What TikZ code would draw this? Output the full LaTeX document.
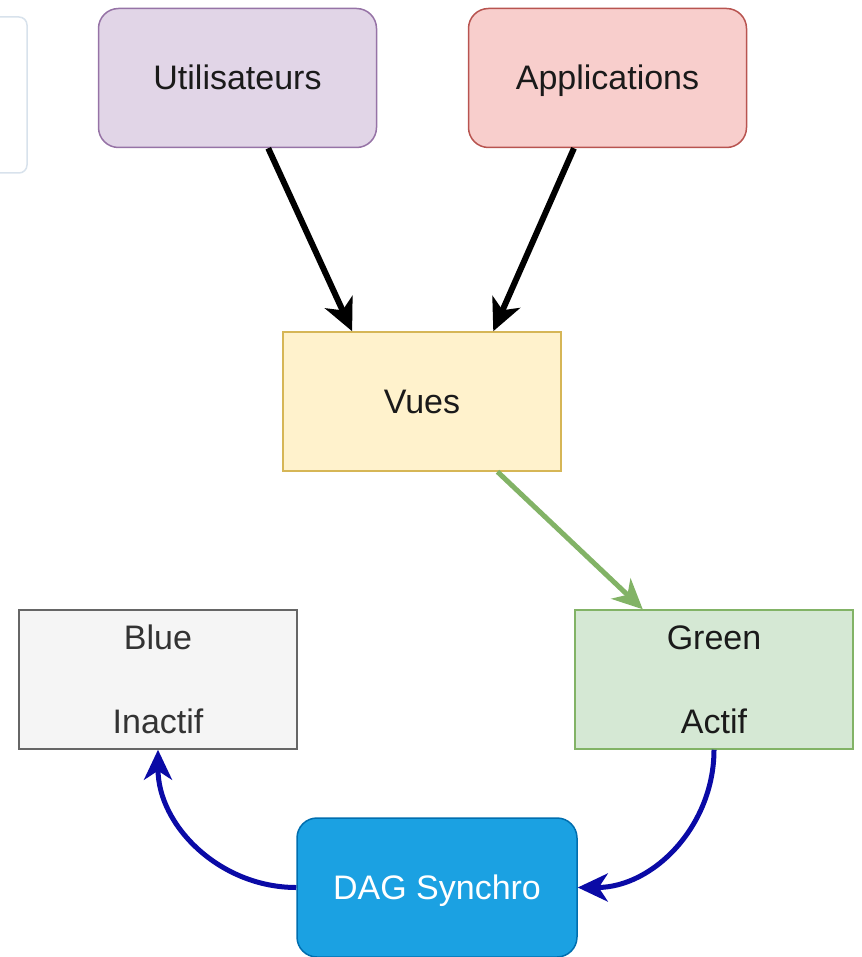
\documentclass[tikz,border=0pt]{standalone}
\usepackage{fontspec}
\setmainfont{Liberation Sans}
\usetikzlibrary{arrows.meta,calc}
\definecolor{purpleFill}{HTML}{E1D5E7}\definecolor{purpleLine}{HTML}{9673A6}
\definecolor{redFill}{HTML}{F8CECC}\definecolor{redLine}{HTML}{B85450}
\definecolor{yellowFill}{HTML}{FFF2CC}\definecolor{yellowLine}{HTML}{D6B656}
\definecolor{greyFill}{HTML}{F5F5F5}\definecolor{greyLine}{HTML}{666666}
\definecolor{greenFill}{HTML}{D5E8D4}\definecolor{greenLine}{HTML}{82B366}
\definecolor{syncFill}{HTML}{1BA1E2}\definecolor{syncLine}{HTML}{006EAF}
\definecolor{syncArrow}{HTML}{0A0AA6}
\definecolor{paleLine}{HTML}{D8E2EC}
\definecolor{textGrey}{HTML}{333333}
\definecolor{textDark}{HTML}{1A1A1A}
\begin{document}
\begin{tikzpicture}[x=1pt,y=-1pt,
  box/.style={draw,line width=1.5pt,minimum width=278pt,minimum height=139pt,
    inner sep=0pt,font=\fontsize{34}{40}\selectfont,align=center,text=textDark},
  oneline/.style={text height=24pt,text depth=0pt},
  roundbox/.style={box,oneline,rounded corners=20pt},
  blackarrow/.style={line width=6pt,-{Stealth[length=32pt,width=30pt,inset=9pt]}},
  greenarrow/.style={line width=5pt,greenLine,-{Stealth[length=30pt,width=28pt,inset=9pt]}},
  syncarrow/.style={line width=5pt,syncArrow,-{Stealth[length=30pt,width=28pt,inset=9pt]}}]
\useasboundingbox (0,0) rectangle (861,957);
% partially visible panel on the left edge
\draw[paleLine,line width=1.5pt,fill=white,rounded corners=8pt] (-80,17) rectangle (27,173);
% boxes
\node[roundbox,fill=purpleFill,draw=purpleLine] (u) at (237.5,78) {Utilisateurs};
\node[roundbox,fill=redFill,draw=redLine] (a) at (607.5,78) {Applications};
\node[box,oneline,fill=yellowFill,draw=yellowLine] (v) at (422,401.5) {Vues};
\node[box,fill=greyFill,draw=greyLine,text=textGrey] (b) at (158,679.5) {Blue\\[44pt]Inactif};
\node[box,fill=greenFill,draw=greenLine] (g) at (714,679.5) {Green\\[44pt]Actif};
\node[roundbox,fill=syncFill,draw=syncLine,text=white,minimum width=280pt] (d) at (437,887.5) {DAG Synchro};
% connectors
\draw[blackarrow] ($(u.south west)!0.61!(u.south east)$) -- ($(v.north west)!0.25!(v.north east)$);
\draw[blackarrow] ($(a.south west)!0.38!(a.south east)$) -- ($(v.north west)!0.755!(v.north east)$);
\draw[greenarrow] ($(v.south west)!0.77!(v.south east)$) -- ($(g.north west)!0.245!(g.north east)$);
\draw[syncarrow] (g.south) to[out=-90,in=0] (d.east);
\draw[syncarrow] (d.west) to[out=180,in=-90] (b.south);
\end{tikzpicture}
\end{document}
